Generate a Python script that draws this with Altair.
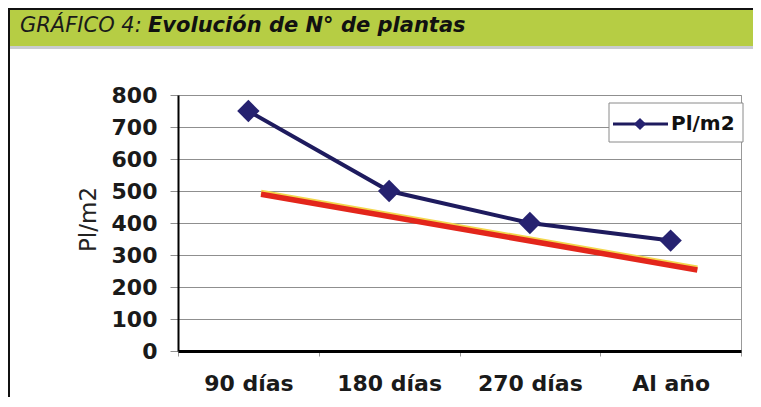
import altair as alt
import pandas as pd

# ---- data ----
categorias = ["90 días", "180 días", "270 días", "Al año"]
plantas = [750, 500, 400, 345]
tendencia_x = [1.09, 4.19]
tendencia_y = [490, 253]
serie = "Pl/m2"
titulo_a = "GRÁFICO 4:"
titulo_b = "Evolución de N° de plantas"

df = pd.DataFrame({"cat": categorias, "val": plantas})
df_t = pd.DataFrame({"x": tendencia_x, "val": tendencia_y})
one = pd.DataFrame({"a": [0]})

W, H = 563, 256
NAVY = "#1e1b5e"
FONT = "DejaVu Sans"

y_axis = alt.Axis(values=list(range(0, 801, 100)), title="Pl/m2",
                  grid=True, gridColor="#8f8f8f", gridWidth=1,
                  tickSize=8, tickColor="#8f8f8f", domainColor="#000", domainWidth=2,
                  labelFont=FONT, labelFontWeight="bold", labelFontSize=22,
                  labelColor="#1a1a1a", labelPadding=13,
                  titleFont=FONT, titleFontWeight="normal", titleFontSize=23,
                  titleColor="#222", titleAngle=-90, titleX=-90, titleY=124,
                  titleAlign="center", titleBaseline="middle")
y_scale = alt.Scale(domain=[0, 800], nice=False)

main = alt.Chart(df).mark_line(
    color=NAVY, strokeWidth=4,
    point=alt.OverlayMarkDef(shape="diamond", size=500, filled=True, color="#262270", opacity=1),
).encode(
    x=alt.X("cat:N", sort=categorias,
            scale=alt.Scale(type="band", paddingInner=0, paddingOuter=0),
            axis=alt.Axis(title=None, labelAngle=0, tickBand="extent", grid=False,
                          labelFont=FONT, labelFontWeight="bold", labelFontSize=22,
                          labelColor="#1a1a1a", labelPadding=34, labelBaseline="alphabetic",
                          tickSize=5, tickColor="#999",
                          domainColor="#000", domainWidth=3)),
    y=alt.Y("val:Q", scale=y_scale, axis=y_axis),
)

red_glow = alt.Chart(df_t).mark_line(color="#f3d64c", strokeWidth=5, yOffset=-2).encode(
    x=alt.X("x:Q", scale=alt.Scale(domain=[0.5, 4.5], nice=False), axis=None),
    y=alt.Y("val:Q", scale=y_scale, axis=y_axis),
)
red = alt.Chart(df_t).mark_line(color="#e3261b", strokeWidth=5.5).encode(
    x=alt.X("x:Q", scale=alt.Scale(domain=[0.5, 4.5], nice=False), axis=None),
    y=alt.Y("val:Q", scale=y_scale, axis=y_axis),
)

# ---- decorations: banner, frame, legend ----
banner = alt.Chart(one).mark_rect(color="#b6cd44").encode(
    x=alt.value(-170), x2=alt.value(575), y=alt.value(-86), y2=alt.value(-49))
banner_strip = alt.Chart(one).mark_rect(color="#c9ccd0").encode(
    x=alt.value(-170), x2=alt.value(575), y=alt.value(-49), y2=alt.value(-46))
top_line = alt.Chart(one).mark_rule(color="#111", strokeWidth=2).encode(
    x=alt.value(-170), x2=alt.value(575), y=alt.value(-86))
left_line = alt.Chart(one).mark_rule(color="#111", strokeWidth=2).encode(
    x=alt.value(-169), y=alt.value(-87), y2=alt.value(320))
t1 = alt.Chart(one).mark_text(text=titulo_a, font=FONT, fontStyle="italic", fontSize=21,
                              color="#1a1a1a", align="left", baseline="alphabetic").encode(
    x=alt.value(-158), y=alt.value(-63))
t2 = alt.Chart(one).mark_text(text=titulo_b, font=FONT, fontStyle="italic", fontWeight="bold",
                              fontSize=21, color="#111", align="left", baseline="alphabetic").encode(
    x=alt.value(-30), y=alt.value(-63))

leg_box = alt.Chart(one).mark_rect(fill="white", stroke="#8a8a8a", strokeWidth=1).encode(
    x=alt.value(431), x2=alt.value(565), y=alt.value(8), y2=alt.value(47))
leg_line = alt.Chart(one).mark_rule(color=NAVY, strokeWidth=3).encode(
    x=alt.value(435), x2=alt.value(490), y=alt.value(29))
leg_pt = alt.Chart(one).mark_point(shape="diamond", size=150, filled=True, color="#262270", opacity=1).encode(
    x=alt.value(462), y=alt.value(29))
leg_txt = alt.Chart(one).mark_text(text=serie, font=FONT, fontWeight="bold", fontSize=20,
                                   color="#111", align="left", baseline="middle").encode(
    x=alt.value(493), y=alt.value(29))

chart = alt.layer(
    banner, banner_strip, top_line, left_line, t1, t2,
    main, red_glow, red,
    leg_box, leg_line, leg_pt, leg_txt,
).resolve_scale(x="independent").properties(
    width=W, height=H,
    autosize=alt.AutoSizeParams(type="none"),
    padding={"left": 170, "top": 87, "right": 12, "bottom": 46},
    background="white",
).configure_view(stroke="#999", strokeWidth=1)

chart.save("out.html", embed_options={"renderer": "svg", "actions": False})
